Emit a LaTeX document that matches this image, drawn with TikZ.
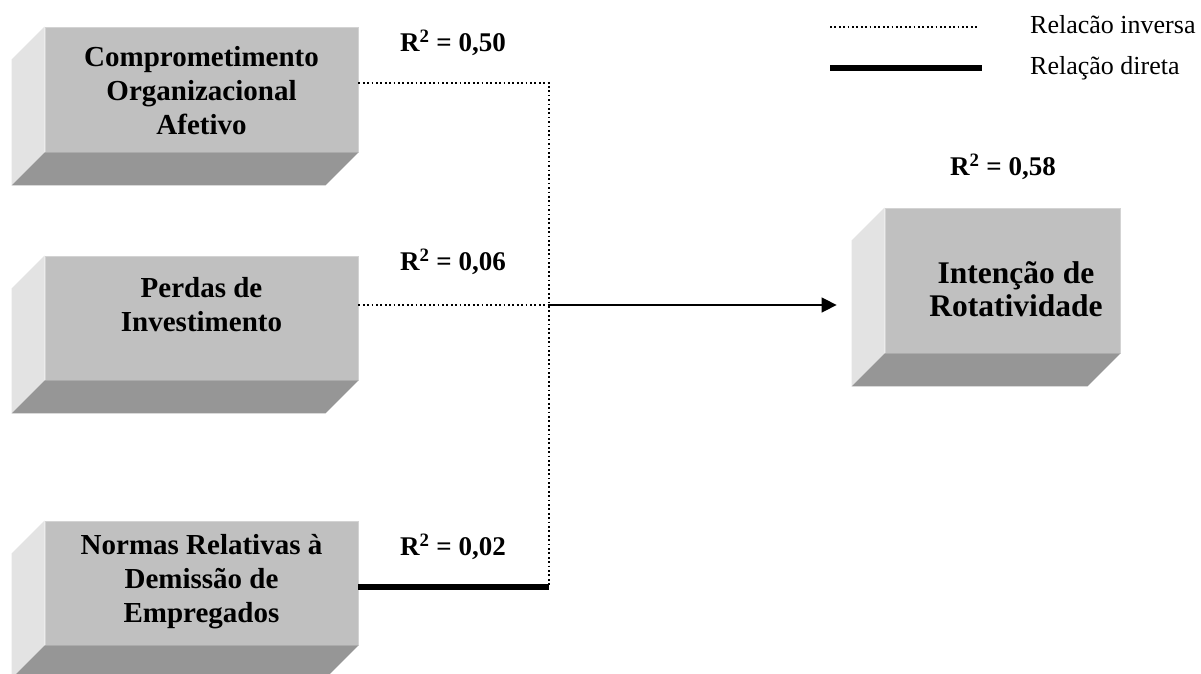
\documentclass[tikz,border=0pt]{standalone}
\usepackage{fontspec}
\setmainfont{Liberation Serif}
\usetikzlibrary{arrows.meta,calc}
\definecolor{facefront}{HTML}{C0C0C0}
\definecolor{faceleft}{HTML}{E3E3E3}
\definecolor{facebottom}{HTML}{969696}
\tikzset{
  front/.style={rectangle, fill=facefront, draw=facefront!70!white, line width=0.8pt, inner sep=0pt},
  leftface/.style={fill=faceleft},
  bottomface/.style={fill=facebottom},
  boxtext/.style={font=\fontsize{29}{34}\selectfont\bfseries, align=center, text=black, inner sep=0pt},
  bigtext/.style={font=\fontsize{31.5}{33}\selectfont\bfseries, align=center, text=black, inner sep=0pt},
  rlabel/.style={font=\fontsize{27}{30}\selectfont\bfseries, inner sep=0pt},
  legtext/.style={font=\fontsize{26}{30}\selectfont, anchor=west, inner sep=0pt},
  inverse/.style={line width=1.7pt, dash pattern=on 1.7pt off 2.7pt},
  direct/.style={line width=5.5pt},
  arrowline/.style={line width=1.5pt, -{Triangle[length=15pt,width=15pt]}},
}
\newcommand{\sidefaces}[1]{%
  \fill[leftface] (#1.north west) -- ++(-33,33) -- ($(#1.south west)+(-33,33)$) -- (#1.south west) -- cycle;
  \fill[bottomface] (#1.south west) -- (#1.south east) -- ++(-33,33) -- ($(#1.south west)+(-33,33)$) -- cycle;
}
\begin{document}
\begin{tikzpicture}[x=1pt,y=-1pt]
\useasboundingbox (0,0) rectangle (1201,674);
\fill[white] (0,0) rectangle (1201,674);

% front faces
\node[front, minimum width=313pt, minimum height=125pt] (b1) at (201.5,89.5) {};
\node[front, minimum width=313pt, minimum height=124pt] (b2) at (201.5,318) {};
\node[front, minimum width=313pt, minimum height=124pt] (b3) at (201.5,583) {};
\node[front, minimum width=235pt, minimum height=145pt] (b4) at (1002.5,280.5) {};
\sidefaces{b1}
\sidefaces{b2}
\sidefaces{b3}
\sidefaces{b4}

% texts
\node[boxtext] (b1t) at (201.5,91) {Comprometimento\\Organizacional\\Afetivo};
\node[boxtext] (b2t) at (201.5,305) {Perdas de\\Investimento};
\node[boxtext] (b3t) at (201.5,582) {Normas Relativas à\\Demissão de\\Empregados};
\node[bigtext] (b4t) at (1016,289) {Intenção de\\Rotatividade};

% R2 labels
\node[rlabel] (r1) at (453,43) {R\textsuperscript{2} = 0,50};
\node[rlabel] (r2) at (453,262) {R\textsuperscript{2} = 0,06};
\node[rlabel] (r3) at (453,547) {R\textsuperscript{2} = 0,02};
\node[rlabel] (r4) at (1003,167) {R\textsuperscript{2} = 0,58};

% connectors
\coordinate (j1) at (549,83);
\coordinate (j2) at (549,305);
\coordinate (j3) at (549,587);
\draw[inverse] (b1.east |- j1) -- (j1) -- (j3);
\draw[inverse] (b2.east |- j2) -- (j2);
\draw[direct] (b3.east |- j3) -- (j3);
\draw[arrowline, shorten >=48pt] (j2) -- (b4.west |- j2);

% legend
\coordinate (l1a) at (830,27);
\coordinate (l1b) at (977,27);
\coordinate (l2a) at (830,68);
\coordinate (l2b) at (982,68);
\draw[inverse] (l1a) -- (l1b);
\draw[direct, line width=6pt] (l2a) -- (l2b);
\node[legtext] (lt1) at (1030,25) {Relacão inversa};
\node[legtext] (lt2) at (1030,68) {Relação direta};
\end{tikzpicture}
\end{document}
